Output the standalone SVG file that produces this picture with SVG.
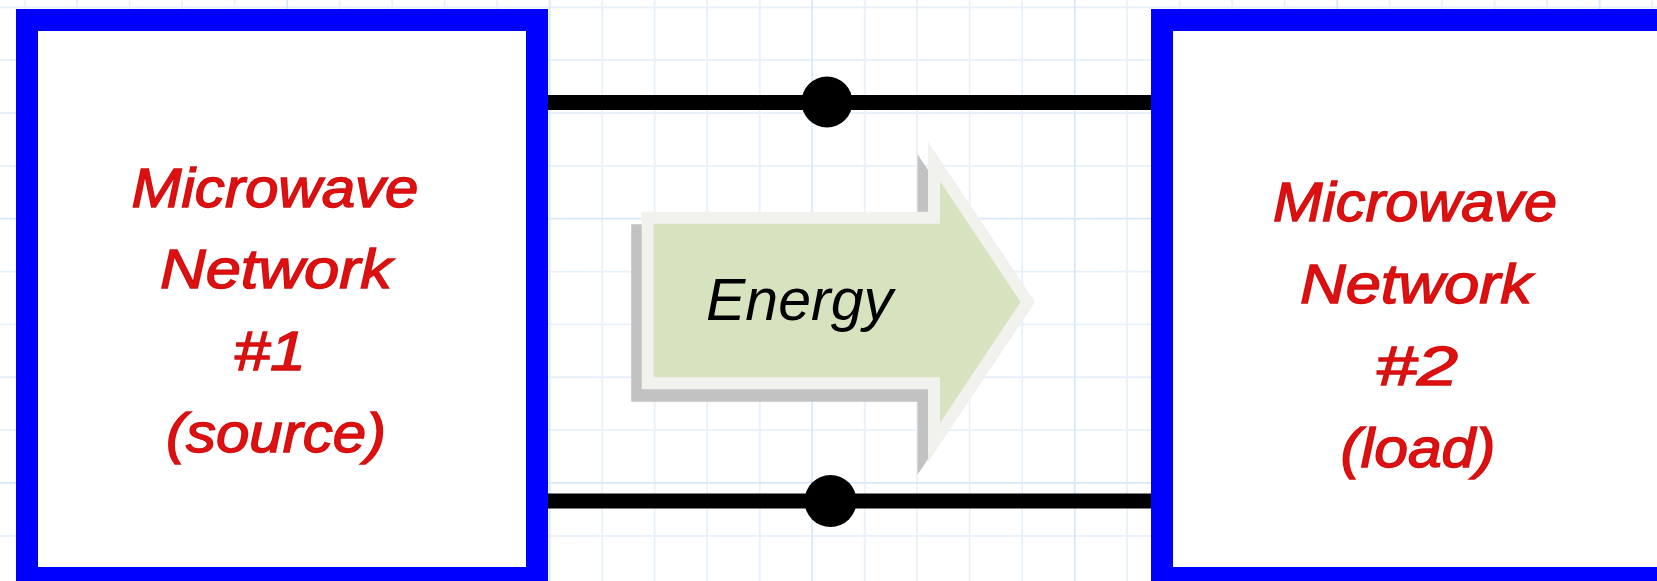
<svg xmlns="http://www.w3.org/2000/svg" width="1657" height="581" viewBox="0 0 1657 581">
  <style>
    .grid-minor { stroke: #e8f0fa; stroke-width: 1.8; fill: none; }
    .grid-major { stroke: #d9e8f7; stroke-width: 1.8; fill: none; }
    .network { fill: #ffffff; stroke: #0000ff; stroke-width: 22; }
    .label { font-family: "Liberation Sans", Arial, sans-serif; font-style: italic; font-weight: normal; font-size: 56px; fill: #e01010; stroke: #d01010; stroke-width: 1.4; text-anchor: middle; }
    .wire { stroke: #000000; stroke-width: 15; fill: none; }
    .node-dot { fill: #000000; }
    .flow-text { font-family: "Liberation Sans", Arial, sans-serif; font-style: italic; font-size: 59px; fill: #000000; }
  </style>

  <!-- graph paper background -->
  <rect x="0" y="0" width="1657" height="581" fill="#ffffff"/>
  <g id="grid">
    <path class="grid-minor" d="M24.7 0V581M77.2 0V581M129.7 0V581M182.2 0V581M234.7 0V581M339.7 0V581M392.2 0V581M444.7 0V581M497.2 0V581M602.2 0V581M654.7 0V581M707.2 0V581M759.7 0V581M864.7 0V581M917.2 0V581M969.7 0V581M1022.2 0V581M1127.2 0V581M1179.7 0V581M1232.2 0V581M1284.7 0V581M1389.7 0V581M1442.2 0V581M1494.7 0V581M1547.2 0V581M1652.2 0V581
      M0 7.3H1657M0 60.15H1657M0 113H1657M0 165.85H1657M0 271.55H1657M0 324.4H1657M0 377.25H1657M0 430.1H1657M0 535.8H1657"/>
    <path class="grid-major" d="M287.2 0V581M549.7 0V581M812.2 0V581M1074.7 0V581M1337.2 0V581M1599.7 0V581M0 218.7H1657M0 482.95H1657"/>
  </g>

  <!-- two-wire transmission line with terminal dots -->
  <g id="connectors">
    <line class="wire" x1="540" y1="102.5" x2="1160" y2="102.5"/>
    <line class="wire" x1="540" y1="501" x2="1160" y2="501"/>
    <circle class="node-dot" cx="827" cy="102" r="25.5"/>
    <circle class="node-dot" cx="830.5" cy="501" r="26"/>
  </g>

  <!-- energy flow arrow -->
  <g id="energy-arrow">
    <polygon fill="#c2c2c2" points="631.2,224.2 917.5,224.2 917.5,154.2 1024.5,314.5 917.5,474.8 917.5,401.8 631.2,401.8"/>
    <polygon fill="#d7e3bf" stroke="#f1f1ee" stroke-width="12" stroke-linejoin="miter" points="647.7,217.7 934,217.7 934,161.5 1027.8,302 934,442.5 934,383.3 647.7,383.3"/>
    <text class="flow-text" x="706" y="320">Energy</text>
  </g>

  <!-- source network -->
  <g id="network-1">
    <rect class="network" x="27" y="20" width="510" height="558"/>
    <text class="label" x="275" y="207" textLength="287" lengthAdjust="spacingAndGlyphs">Microwave</text>
    <text class="label" x="276" y="288" textLength="232" lengthAdjust="spacingAndGlyphs">Network</text>
    <text class="label" x="270" y="370" textLength="72" lengthAdjust="spacingAndGlyphs">#1</text>
    <text class="label" x="276" y="452" textLength="220" lengthAdjust="spacingAndGlyphs">(source)</text>
  </g>

  <!-- load network -->
  <g id="network-2">
    <rect class="network" x="1162" y="20" width="600" height="558"/>
    <text class="label" x="1415" y="221" textLength="284" lengthAdjust="spacingAndGlyphs">Microwave</text>
    <text class="label" x="1416" y="303" textLength="232" lengthAdjust="spacingAndGlyphs">Network</text>
    <text class="label" x="1417" y="385" textLength="82" lengthAdjust="spacingAndGlyphs">#2</text>
    <text class="label" x="1418" y="467" textLength="155" lengthAdjust="spacingAndGlyphs">(load)</text>
  </g>
</svg>
